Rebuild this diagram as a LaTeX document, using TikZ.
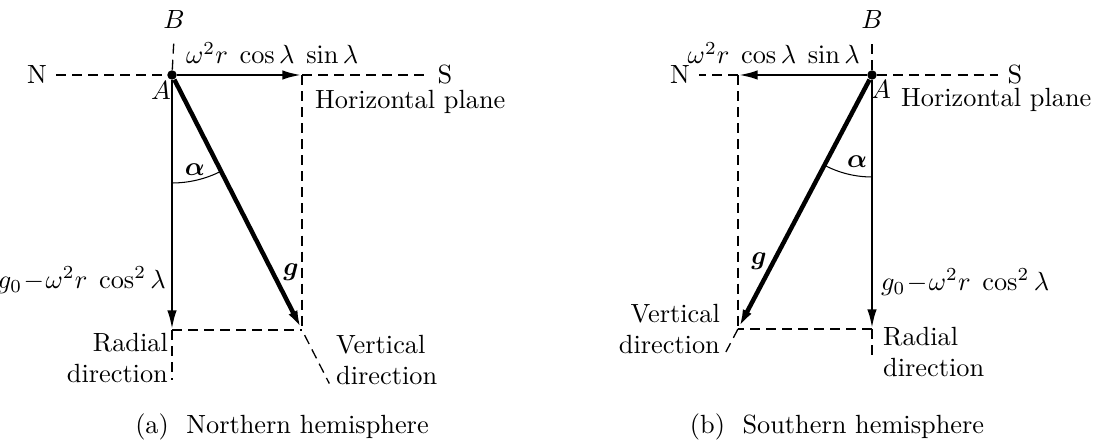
\documentclass[tikz,border=0pt]{standalone}
\usepackage{amsmath,amssymb}
\usepackage{bm}
\usetikzlibrary{arrows.meta, positioning, calc}

\begin{document}
\begin{tikzpicture}[x=0.38pt, y=-0.38pt,
  vec/.style={line width=1.1pt, -{Latex[length=7.5pt,width=3.6pt]}},
  gvec/.style={vec, line width=1.7pt},
  guide/.style={line width=0.5pt, dash pattern=on 3.8pt off 2.3pt},
  pt/.style={circle, fill, inner sep=0pt, minimum size=3.6pt},
  lbl/.style={inner sep=1pt}]
  \useasboundingbox (0,0) rectangle (1096,442);

  % (a) Northern hemisphere
  \node[pt] (A1) at (172,75) {};
  \coordinate (H1) at (302,75);
  \coordinate (R1) at (172,330);
  \coordinate (C1) at (302,330);
  \coordinate (E1) at (172,380);
  \node (B1) at (174,20) {$B$};
  \node (N1) at (37,75) {N};
  \node (S1) at (445,75) {S};
  \node (a1) at (161,91) {$A$};
  \draw[guide] (A1) -- (B1.south);
  \draw[guide] (N1.east) -- (A1);
  \draw[guide] (H1) -- (S1.west);
  \draw[guide] (H1) -- (C1);
  \draw[guide] (R1) -- (C1);
  \draw[guide] (R1) -- (E1);
  \draw[guide] ($(A1)!1.02!(C1)$) -- ($(A1)!1.21!(C1)$);
  \draw[vec] (A1) -- (H1);
  \draw[vec] (A1) -- (R1);
  \draw[gvec] (A1) -- (C1);
  \draw (A1) ++(90:108) arc[start angle=90, end angle=62.8, radius=108];
  \node[lbl, anchor=west] (w1) at (183,53) {$\omega^2r\;\cos\lambda\;\sin\lambda$};
  \node[lbl, anchor=west] (hp1) at (312,102) {Horizontal plane};
  \node[lbl, anchor=east] (gr1) at (169,280) {$g_0\!-\!\omega^2r\;\cos^2\lambda$};
  \node (g1) at (291,272) {$\bm{g}$};
  \node (al1) at (195,170) {$\bm{\alpha}$};
  \node[lbl, anchor=east, align=right] (rd1) at (171,358) {Radial\\direction};
  \node[lbl, anchor=west, align=left] (vd1) at (333,360) {Vertical\\direction};
  \node (cap1) at (282,427) {(a)\ \ Northern hemisphere};

  % (b) Southern hemisphere
  \node[pt] (A2) at (872,75) {};
  \coordinate (H2) at (738,75);
  \coordinate (R2) at (872,329);
  \coordinate (C2) at (738,329);
  \coordinate (E2) at (872,358);
  \node (B2) at (872,20) {$B$};
  \node (N2) at (680,75) {N};
  \node (S2) at (1015,75) {S};
  \node (a2) at (881,90) {$A$};
  \draw[guide] (A2) -- (B2.south);
  \draw[guide] (H2) -- (N2.east);
  \draw[guide] (A2) -- (S2.west);
  \draw[guide] (H2) -- (C2);
  \draw[guide] (R2) -- (C2);
  \draw[guide] (R2) -- (E2);
  \draw[guide] (C2) -- ($(A2)!1.11!(C2)$);
  \draw[vec] (A2) -- (H2);
  \draw[vec] (A2) -- (R2);
  \draw[gvec] (A2) -- (C2);
  \draw (A2) ++(90:102) arc[start angle=90, end angle=117.8, radius=102];
  \node[lbl, anchor=east] (w2) at (863,53) {$\omega^2r\;\cos\lambda\;\sin\lambda$};
  \node[lbl, anchor=west] (hp2) at (898,100) {Horizontal plane};
  \node[lbl, anchor=west] (gr2) at (878,282) {$g_0\!-\!\omega^2r\;\cos^2\lambda$};
  \node (g2) at (759,261) {$\bm{g}$};
  \node (al2) at (857,162) {$\bm{\alpha}$};
  \node[lbl, anchor=west, align=left] (rd2) at (880,352) {Radial\\direction};
  \node[lbl, anchor=east, align=right] (vd2) at (723,329) {Vertical\\direction};
  \node (cap2) at (837,427) {(b)\ \ Southern hemisphere};
\end{tikzpicture}
\end{document}
